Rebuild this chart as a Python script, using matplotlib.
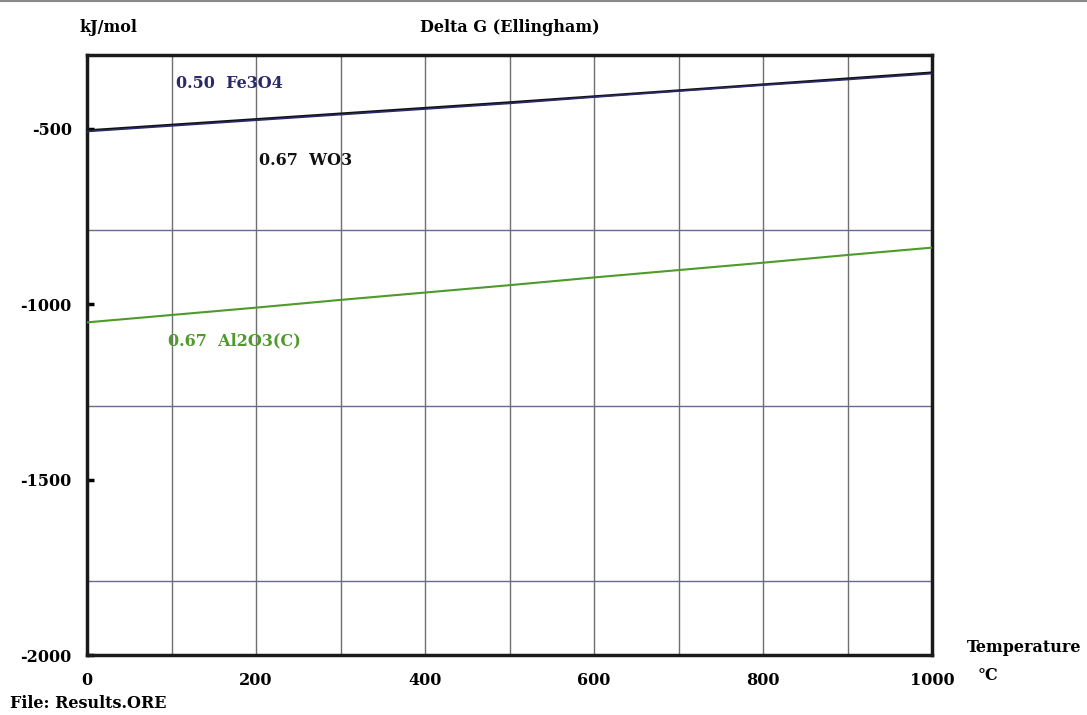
import matplotlib
matplotlib.use("Agg")
import matplotlib.pyplot as plt

temps = [0, 100, 200, 300, 400, 500, 600, 700, 800, 900, 1000]
fe3o4 = [-508, -492, -476, -460, -444, -428, -410, -393, -376, -360, -343]
wo3 = [-505, -489, -473, -457, -441, -425, -408, -391, -374, -357, -340]
al2o3 = [-1052, -1031, -1010, -988, -967, -946, -924, -903, -882, -860, -839]
xticks = [0, 200, 400, 600, 800, 1000]
yticks = [-500, -1000, -1500, -2000]
hgrid = [-790, -1290, -1790]

plt.rcParams['font.family'] = ['DejaVu Serif']
plt.rcParams['font.weight'] = 'bold'

FS = 11.5

fig = plt.figure(figsize=(10.87, 7.15), dpi=100)
ax = fig.add_axes([87/1087, 1-655/715, (932-87)/1087, 600/715])
ax.set_xlim(0, 1000)
ax.set_ylim(-2000, -290)

for x in range(100, 1000, 100):
    ax.axvline(x, color='#707070', lw=1.0, zorder=1)
for y in hgrid:
    ax.axhline(y, color='#6a6a90', lw=1.0, zorder=1)

ax.plot(temps, wo3, color='#111111', lw=1.6, zorder=3)
ax.plot(temps, fe3o4, color='#2a2a6a', lw=1.2, zorder=4)
ax.plot(temps, al2o3, color='#4e9a2a', lw=1.5, zorder=3)

ax.text(105, -370, '0.50  Fe3O4', color='#2a2a6a', fontsize=FS, fontweight='bold', va='center', ha='left')
ax.text(203, -590, '0.67  WO3', color='#111111', fontsize=FS, fontweight='bold', va='center', ha='left')
ax.text(96, -1106, '0.67  Al2O3(C)', color='#4e9a2a', fontsize=FS, fontweight='bold', va='center', ha='left')

ax.set_xticks(xticks)
ax.set_xticklabels([str(t) for t in xticks])
ax.set_yticks(yticks)
ax.set_yticklabels([str(t) for t in yticks])
ax.tick_params(axis='x', length=0, pad=12, labelsize=FS)
ax.tick_params(axis='y', length=5, width=2.5, direction='in', pad=11, labelsize=FS)
for s in ax.spines.values():
    s.set_linewidth(2.5)
    s.set_color('#1a1a1a')

fig.text(80/1087, 1-27/715, 'kJ/mol', fontsize=FS, fontweight='bold', va='center', ha='left')
fig.text(510/1087, 1-28/715, 'Delta G (Ellingham)', fontsize=FS, fontweight='bold', va='center', ha='center')
fig.text(967/1087, 1-647/715, 'Temperature', fontsize=FS, fontweight='bold', va='center', ha='left')
fig.text(978/1087, 1-676/715, '°C', fontsize=FS, fontweight='bold', va='center', ha='left')
fig.text(10/1087, 1-704/715, 'File: Results.ORE', fontsize=FS, fontweight='bold', va='center', ha='left')
fig.add_artist(plt.Line2D([0, 1], [1-1/715, 1-1/715], color='#888888', lw=1.5))

fig.savefig('out.png', dpi=100)
